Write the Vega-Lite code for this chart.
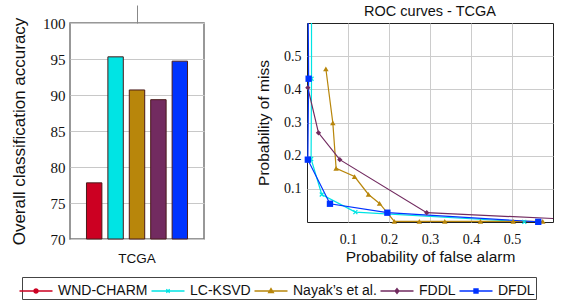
{
  "$schema": "https://vega.github.io/schema/vega-lite/v6.json",
  "padding": {"left": 9, "top": 3, "right": 5, "bottom": 1},
  "background": "white",
  "bounds": "flush",
  "spacing": 103,
  "config": {
    "font": "Liberation Sans",
    "axis": {"labelColor": "#111", "titleColor": "#111", "titleFontWeight": "normal"},
    "legend": {
      "orient": "none", "legendX": -48, "legendY": 254,
      "direction": "horizontal", "columns": 5,
      "labelFont": "Liberation Sans", "labelFontSize": 14, "labelColor": "#111",
      "symbolSize": 576, "symbolStrokeWidth": 1.3,
      "labelOffset": 9, "columnPadding": 0, "padding": 1,
      "strokeColor": "#444", "fillColor": "white"
    }
  },
  "hconcat": [
    {
      "width": 134,
      "height": 216,
      "view": {"stroke": "#777", "strokeWidth": 1.5},
      "data": {
        "values": [
          {"dataset": "TCGA", "method": "WND-CHARM", "accuracy": 77.8},
          {"dataset": "TCGA", "method": "LC-KSVD", "accuracy": 95.3},
          {"dataset": "TCGA", "method": "Nayak’s et al.", "accuracy": 90.7},
          {"dataset": "TCGA", "method": "FDDL", "accuracy": 89.35},
          {"dataset": "TCGA", "method": "DFDL", "accuracy": 94.7}
        ]
      },
      "encoding": {
        "y": {
          "field": "accuracy", "type": "quantitative",
          "scale": {"domain": [70, 100], "zero": false, "nice": false},
          "axis": {
            "values": [70, 75, 80, 85, 90, 95, 100],
            "title": "Overall classification accuracy",
            "titleFontSize": 17, "titleFont": "Liberation Sans", "titlePadding": 14,
            "labelFont": "Liberation Serif", "labelFontSize": 15, "labelPadding": 5,
            "ticks": false, "domain": false, "grid": true, "gridColor": "#c8c8c8"
          }
        }
      },
      "layer": [
        {
          "mark": {"type": "bar", "stroke": "#4a1a1a", "strokeWidth": 1},
          "encoding": {
            "x": {
              "field": "dataset", "type": "nominal",
              "scale": {"paddingOuter": 0.163, "paddingInner": 0},
              "axis": {"orient": "bottom", "title": null, "labelAngle": 0, "ticks": false, "domain": false, "labelFontSize": 13.5, "labelPadding": 12, "labelFont": "Liberation Sans"}
            },
            "xOffset": {
              "field": "method", "type": "nominal",
              "scale": {"domain": ["WND-CHARM", "LC-KSVD", "Nayak’s et al.", "FDDL", "DFDL"], "paddingInner": 0.28, "paddingOuter": 0}
            },
            "y2": {"datum": 70},
            "color": {
              "field": "method", "type": "nominal",
              "scale": {
                "domain": ["WND-CHARM", "LC-KSVD", "Nayak’s et al.", "FDDL", "DFDL"],
                "range": ["#cc0022", "#00e4e4", "#b8860b", "#722b60", "#0033ff"]
              },
              "legend": {"title": null}
            }
          }
        },
        {
          "mark": {"type": "point", "filled": true, "size": 0, "opacity": 1},
          "encoding": {
            "x": {
              "field": "dataset", "type": "nominal",
              "axis": {"orient": "top", "title": null, "labels": false, "ticks": true, "tickSize": 18, "tickColor": "#888", "domain": false}
            },
            "color": {
              "field": "method", "type": "nominal",
              "legend": {"title": null}
            },
            "stroke": {
              "field": "method", "type": "nominal",
              "scale": {
                "domain": ["WND-CHARM", "LC-KSVD", "Nayak’s et al.", "FDDL", "DFDL"],
                "range": ["#cc0022", "#00e4e4", "#b8860b", "#722b60", "#0033ff"]
              },
              "legend": {"title": null}
            },
            "shape": {
              "field": "method", "type": "nominal",
              "scale": {
                "domain": ["WND-CHARM", "LC-KSVD", "Nayak’s et al.", "FDDL", "DFDL"],
                "range": [
                  "M-1.375,0H1.375M0.18,0L0.13,0.13L0,0.18L-0.13,0.13L-0.18,0L-0.13,-0.13L0,-0.18L0.13,-0.13Z",
                  "M-1.375,0H1.375M-0.14,-0.14L0.14,0.14M-0.14,0.14L0.14,-0.14",
                  "M-1.375,0H1.375M0,-0.21L0.2,0.14L-0.2,0.14Z",
                  "M-1.375,0H1.375M0,-0.2L0.16,0L0,0.2L-0.16,0Z",
                  "M-1.375,0H1.375M-0.17,-0.17H0.17V0.17H-0.17Z"
                ]
              },
              "legend": {"title": null}
            }
          }
        }
      ],
      "resolve": {"axis": {"x": "independent"}}
    },
    {
      "width": 246,
      "height": 199,
      "view": {"stroke": "#222", "strokeWidth": 1},
      "title": {"text": "ROC curves - TCGA", "fontSize": 14.5, "fontWeight": "normal", "font": "Liberation Sans", "offset": 4, "color": "#111"},
      "data": {
        "values": [
          {"method": "LC-KSVD", "k": 1, "fa": 0.011, "miss": 0.6},
          {"method": "LC-KSVD", "k": 2, "fa": 0.011, "miss": 0.432},
          {"method": "LC-KSVD", "k": 3, "fa": 0.010, "miss": 0.19},
          {"method": "LC-KSVD", "k": 4, "fa": 0.036, "miss": 0.083},
          {"method": "LC-KSVD", "k": 5, "fa": 0.118, "miss": 0.030},
          {"method": "LC-KSVD", "k": 6, "fa": 0.530, "miss": 0.0005},
          {"method": "Nayak’s et al.", "k": 1, "fa": 0.046, "miss": 0.462},
          {"method": "Nayak’s et al.", "k": 2, "fa": 0.063, "miss": 0.299},
          {"method": "Nayak’s et al.", "k": 3, "fa": 0.071, "miss": 0.162},
          {"method": "Nayak’s et al.", "k": 4, "fa": 0.116, "miss": 0.137},
          {"method": "Nayak’s et al.", "k": 5, "fa": 0.150, "miss": 0.083},
          {"method": "Nayak’s et al.", "k": 6, "fa": 0.177, "miss": 0.056},
          {"method": "Nayak’s et al.", "k": 7, "fa": 0.213, "miss": 0.002},
          {"method": "Nayak’s et al.", "k": 8, "fa": 0.274, "miss": 0.002},
          {"method": "Nayak’s et al.", "k": 9, "fa": 0.336, "miss": 0.002},
          {"method": "Nayak’s et al.", "k": 10, "fa": 0.423, "miss": 0.002},
          {"method": "Nayak’s et al.", "k": 11, "fa": 0.503, "miss": 0.002},
          {"method": "Nayak’s et al.", "k": 12, "fa": 0.575, "miss": 0.002},
          {"method": "FDDL", "k": 1, "fa": 0.002, "miss": 0.405},
          {"method": "FDDL", "k": 2, "fa": 0.028, "miss": 0.269},
          {"method": "FDDL", "k": 3, "fa": 0.080, "miss": 0.188},
          {"method": "FDDL", "k": 4, "fa": 0.292, "miss": 0.028},
          {"method": "FDDL", "k": 5, "fa": 0.6, "miss": 0.0105},
          {"method": "DFDL", "k": 1, "fa": 0.003, "miss": 0.6},
          {"method": "DFDL", "k": 2, "fa": 0.004, "miss": 0.432},
          {"method": "DFDL", "k": 3, "fa": 0.002, "miss": 0.188},
          {"method": "DFDL", "k": 4, "fa": 0.056, "miss": 0.055},
          {"method": "DFDL", "k": 5, "fa": 0.196, "miss": 0.028},
          {"method": "DFDL", "k": 6, "fa": 0.564, "miss": 0.0005}
        ]
      },
      "encoding": {
        "x": {
          "field": "fa", "type": "quantitative",
          "scale": {"domain": [0, 0.6], "nice": false},
          "axis": {
            "values": [0.1, 0.2, 0.3, 0.4, 0.5], "format": ".1f",
            "title": "Probability of false alarm", "titleFontSize": 15.5, "titlePadding": 3,
            "labelFont": "Liberation Serif", "labelFontSize": 14, "labelPadding": 10,
            "ticks": false, "domain": false, "grid": true, "gridColor": "#cccccc"
          }
        },
        "y": {
          "field": "miss", "type": "quantitative",
          "scale": {"domain": [0, 0.6], "nice": false},
          "axis": {
            "values": [0.1, 0.2, 0.3, 0.4, 0.5], "format": ".1f",
            "title": "Probability of miss", "titleFontSize": 15.5, "titlePadding": 12,
            "labelFont": "Liberation Serif", "labelFontSize": 14, "labelPadding": 6,
            "ticks": false, "domain": false, "grid": true, "gridColor": "#cccccc"
          }
        },
        "color": {
          "field": "method", "type": "nominal",
          "legend": {"title": null}
        }
      },
      "layer": [
        {
          "mark": {"type": "line", "strokeWidth": 1.2, "clip": true},
          "encoding": {"order": {"field": "k", "type": "quantitative"}}
        },
        {
          "transform": [{"filter": "datum.method === 'LC-KSVD' && datum.miss < 0.59"}],
          "mark": {"type": "point", "filled": false, "opacity": 1, "size": 16, "strokeWidth": 1.2, "shape": "M-1,-1L1,1M-1,1L1,-1"}
        },
        {
          "transform": [{"filter": "datum.method === 'Nayak’s et al.'"}],
          "mark": {"type": "point", "filled": true, "opacity": 1, "size": 30, "shape": "triangle-up"}
        },
        {
          "transform": [{"filter": "datum.method === 'FDDL' && datum.fa < 0.59"}],
          "mark": {"type": "point", "filled": true, "opacity": 1, "size": 28, "shape": "diamond"}
        },
        {
          "transform": [{"filter": "datum.method === 'DFDL' && datum.miss < 0.59"}],
          "mark": {"type": "point", "filled": true, "opacity": 1, "size": 40, "shape": "square"}
        }
      ]
    }
  ]
}
